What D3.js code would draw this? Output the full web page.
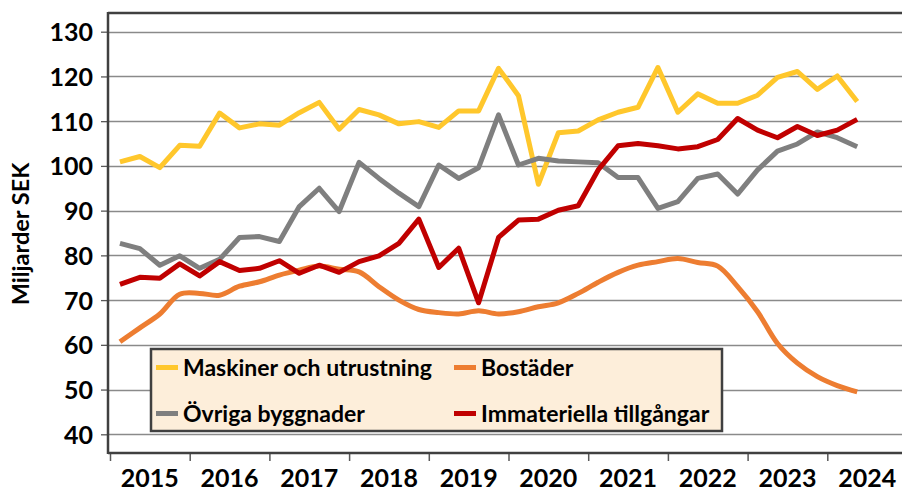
<!DOCTYPE html>
<html>
<head>
<meta charset="utf-8">
<script src="https://cdn.jsdelivr.net/npm/d3@7"></script>
<style>
  html, body { margin: 0; padding: 0; background: #ffffff; }
  svg { display: block; font-family: Lato, "Open Sans", sans-serif; font-weight: 700; }
</style>
</head>
<body>
<svg id="chart" width="902" height="491"></svg>
<script>
// ---- data ----
const years = [2015, 2016, 2017, 2018, 2019, 2020, 2021, 2022, 2023, 2024];
const quarters = [];
for (let yr = 2015; yr <= 2024; yr++) for (let q = 1; q <= 4; q++) quarters.push(yr + "K" + q);
quarters.length = 38; // 2015K1 .. 2024K2
const yTicks = [40, 50, 60, 70, 80, 90, 100, 110, 120, 130];

const maskiner = [100.9, 102.1, 99.6, 104.6, 104.4, 111.8, 108.5, 109.4, 109.1, 111.9,
  114.2, 108.2, 112.6, 111.4, 109.4, 109.9, 108.6, 112.3, 112.3, 121.8,
  115.7, 95.9, 107.4, 107.8, 110.3, 112.0, 113.1, 122.0, 112.0, 116.1,
  114.0, 114.0, 115.8, 119.8, 121.1, 117.1, 120.1, 114.4];
const bostader = [60.7, 63.8, 66.9, 71.3, 71.5, 71.1, 73.1, 74.1, 75.6, 76.7,
  77.6, 76.9, 76.3, 73.0, 70.0, 67.9, 67.2, 66.9, 67.6, 66.9,
  67.4, 68.5, 69.4, 71.5, 74.0, 76.2, 77.8, 78.6, 79.3, 78.4,
  77.6, 73.0, 67.4, 60.3, 55.9, 52.9, 50.9, 49.5];
const ovriga = [82.7, 81.5, 77.8, 79.9, 77.1, 79.1, 84.0, 84.2, 83.1, 90.9,
  95.0, 89.8, 100.8, 97.2, 93.9, 90.9, 100.2, 97.2, 99.6, 111.4,
  100.2, 101.7, 101.1, 100.9, 100.7, 97.4, 97.4, 90.5, 92.0, 97.2,
  98.2, 93.7, 99.1, 103.3, 104.9, 107.6, 106.3, 104.3];
const immateriella = [73.5, 75.1, 74.9, 78.1, 75.4, 78.6, 76.6, 77.1, 78.8, 76.0,
  77.8, 76.2, 78.6, 79.9, 82.7, 88.1, 77.3, 81.6, 69.4, 84.0,
  87.9, 88.1, 90.1, 91.1, 99.1, 104.5, 105.0, 104.5, 103.8, 104.3,
  105.9, 110.6, 108.0, 106.3, 108.8, 106.8, 108.0, 110.4];

const seriesNames = ["Maskiner och utrustning", "Bostäder", "Övriga byggnader", "Immateriella tillgångar"];
const seriesColors = ["#FFC72C", "#ED7D31", "#7F7F7F", "#C00000"];
const seriesValues = [maskiner, bostader, ovriga, immateriella];
const seriesSmooth = [false, true, false, false];

// ---- layout ----
const svg = d3.select("#chart");
const plotLeft = 108, plotRight = 902, plotTop = 13, plotBottom = 453;

const x = d3.scaleLinear().domain([2015, 2025]).range([110, 907]);
const y = d3.scaleLinear().domain([40, 130]).range([434.3, 31.7]);
const qx = i => x(2015 + (i + 0.5) / 4);

// gridlines
svg.append("g").selectAll("line").data(yTicks).join("line")
  .attr("x1", plotLeft).attr("x2", plotRight)
  .attr("y1", d => Math.round(y(d)) + 0.5).attr("y2", d => Math.round(y(d)) + 0.5)
  .attr("stroke", "#8a8a8a").attr("stroke-width", 1.3);

// y axis
const yAxis = d3.axisLeft(y).tickValues(yTicks).tickSize(7).tickPadding(8).tickFormat(d3.format("d"));
const gy = svg.append("g").attr("transform", `translate(${plotLeft},0)`).call(yAxis);
gy.select(".domain").remove();
gy.selectAll(".tick line").attr("stroke", "#595959").attr("stroke-width", 1.3);
gy.selectAll(".tick text").attr("fill", "#000").attr("font-size", 25).attr("font-weight", 700)
  .attr("font-family", "Lato, sans-serif").attr("dy", "0.36em");

// x axis
const xAxis = d3.axisBottom(x).tickValues(years).tickSize(8).tickFormat("");
const gx = svg.append("g").attr("transform", `translate(0,${plotBottom})`).call(xAxis);
gx.select(".domain").remove();
gx.selectAll(".tick line").attr("stroke", "#595959").attr("stroke-width", 1.5);
svg.append("g").selectAll("text").data(years).join("text")
  .attr("x", d => x(d + 0.5)).attr("y", 486.5)
  .attr("text-anchor", "middle").attr("font-size", 25).attr("fill", "#000")
  .text(d => d);

// frame lines
svg.append("line").attr("x1", plotLeft).attr("x2", plotRight).attr("y1", plotTop).attr("y2", plotTop)
  .attr("stroke", "#404040").attr("stroke-width", 2.5);
svg.append("line").attr("x1", plotLeft).attr("x2", plotRight).attr("y1", plotBottom).attr("y2", plotBottom)
  .attr("stroke", "#404040").attr("stroke-width", 2.5);
svg.append("line").attr("x1", plotLeft).attr("x2", plotLeft).attr("y1", plotTop - 1).attr("y2", plotBottom + 1)
  .attr("stroke", "#404040").attr("stroke-width", 2.5);

// y-axis title
svg.append("text").attr("transform", "translate(29,234) rotate(-90)")
  .attr("text-anchor", "middle").attr("font-size", 23.5).attr("fill", "#000")
  .text("Miljarder SEK");

// lines
seriesValues.forEach((vals, k) => {
  const line = d3.line().x((d, i) => qx(i)).y(d => y(d))
    .curve(seriesSmooth[k] ? d3.curveCatmullRom.alpha(0.5) : d3.curveLinear);
  svg.append("path").datum(vals)
    .attr("d", line).attr("fill", "none")
    .attr("stroke", seriesColors[k]).attr("stroke-width", 5)
    .attr("stroke-linejoin", "round");
});

// legend
const lg = svg.append("g");
lg.append("rect").attr("x", 151).attr("y", 349).attr("width", 571).attr("height", 82)
  .attr("fill", "#FDEEDA").attr("stroke", "#404040").attr("stroke-width", 2.5);
const legPos = [[156, 367.5], [454, 367.5], [156, 413.5], [454, 413.5]];
seriesNames.forEach((name, k) => {
  const [lx, ly] = legPos[k];
  lg.append("line").attr("x1", lx).attr("x2", lx + 22).attr("y1", ly).attr("y2", ly)
    .attr("stroke", seriesColors[k]).attr("stroke-width", 5);
  lg.append("text").attr("x", lx + 27).attr("y", ly + 8.5)
    .attr("font-size", 23).attr("fill", "#000").text(name);
});
</script>
</body>
</html>
